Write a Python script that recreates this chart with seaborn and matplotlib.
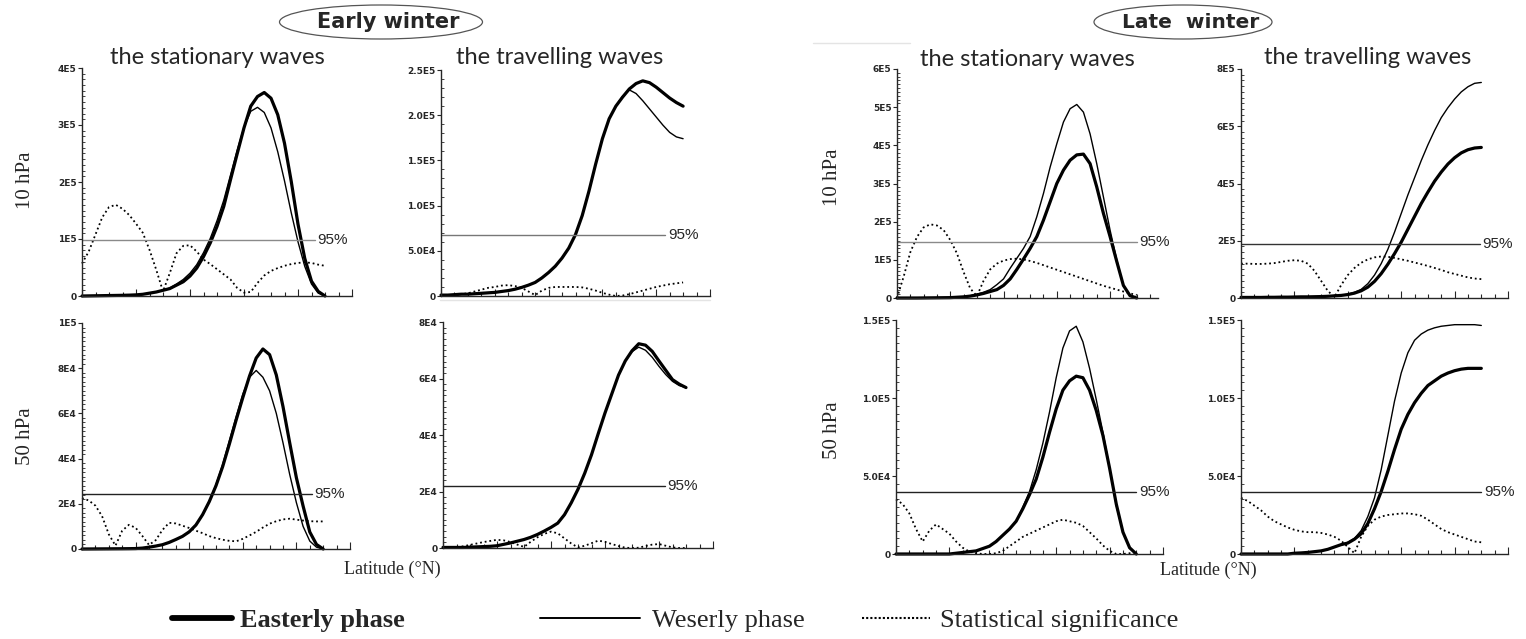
import matplotlib
matplotlib.use("Agg")
import matplotlib.pyplot as plt
import seaborn as sns
from matplotlib.patches import Ellipse
from matplotlib.lines import Line2D
from matplotlib.ticker import MultipleLocator, AutoMinorLocator

# latitude grid (deg N)
lat = [0, 2.5, 5, 7.5, 10, 12.5, 15, 17.5, 20, 22.5, 25, 27.5, 30, 32.5, 35, 37.5,
       40, 42.5, 45, 47.5, 50, 52.5, 55, 57.5, 60, 62.5, 65, 67.5, 70, 72.5, 75,
       77.5, 80, 82.5, 85, 87.5, 90]

# ---- Early winter, stationary waves, 10 hPa (units 1E4)
ew_sta10_east = [0, 0.02, 0.04, 0.06, 0.08, 0.1, 0.12, 0.15, 0.2, 0.3, 0.5, 0.7, 1.0, 1.3, 1.9, 2.5,
                 3.5, 4.9, 6.9, 9.3, 12.2, 15.7, 20.4, 25.0, 29.5, 33.3, 35.0, 35.7, 34.7, 31.8, 26.8,
                 20.1, 12.6, 6.6, 2.6, 0.8, 0]
ew_sta10_west = [0, 0.02, 0.04, 0.06, 0.08, 0.1, 0.12, 0.15, 0.2, 0.3, 0.5, 0.7, 1.0, 1.4, 2.1, 2.9,
                 4.0, 5.5, 7.6, 10.1, 13.2, 16.8, 21.2, 25.6, 29.6, 32.4, 33.1, 32.2, 29.5, 25.3, 20.2,
                 14.6, 9.5, 5.2, 2.1, 0.5, 0]
ew_sta10_sig = [5.7, 7.8, 10.8, 13.8, 15.6, 16.0, 15.3, 14.2, 12.7, 11.1, 8.1, 4.6, 0.8, 4.0, 7.5, 8.8,
                8.9, 7.8, 6.4, 5.6, 4.7, 3.8, 2.9, 1.4, 0.6, 0.7, 2.3, 3.6, 4.4, 4.9, 5.3,
                5.6, 5.8, 5.9, 5.8, 5.5, 5.3]

# ---- Early winter, travelling waves, 10 hPa (units 1E4)
ew_tra10_east = [0.1, 0.1, 0.15, 0.2, 0.2, 0.25, 0.3, 0.35, 0.4, 0.5, 0.6, 0.75, 0.95, 1.2, 1.5, 2.0,
                 2.6, 3.3, 4.2, 5.3, 6.8, 8.9, 11.6, 14.6, 17.4, 19.6, 21.0, 22.0, 22.9, 23.5, 23.8,
                 23.6, 23.1, 22.5, 21.9, 21.4, 21.0]
ew_tra10_west = [0.1, 0.1, 0.15, 0.2, 0.2, 0.25, 0.3, 0.35, 0.4, 0.5, 0.6, 0.75, 0.95, 1.2, 1.5, 2.0,
                 2.6, 3.3, 4.2, 5.3, 6.8, 8.9, 11.6, 14.6, 17.4, 19.6, 21.0, 22.1, 22.8, 22.4, 21.6,
                 20.7, 19.8, 18.9, 18.1, 17.6, 17.4]
ew_tra10_sig = [0.0, 0.05, 0.1, 0.2, 0.3, 0.5, 0.7, 0.9, 1.0, 1.15, 1.2, 1.1, 0.9, 0.5, 0.1, 0.6,
                0.9, 1.0, 1.0, 1.0, 1.0, 0.95, 0.8, 0.6, 0.35, 0.15, 0.0, 0.05, 0.2, 0.4, 0.6,
                0.8, 1.0, 1.15, 1.3, 1.4, 1.5]

# ---- Early winter, stationary waves, 50 hPa (units 1E3)
ew_sta50_east = [0, 0.02, 0.04, 0.06, 0.08, 0.1, 0.12, 0.15, 0.2, 0.4, 0.8, 1.3, 1.9, 2.9, 4.2, 5.6,
                 7.6, 10.6, 15.2, 21.0, 28.0, 36.5, 46.5, 57.0, 67.0, 76.5, 84.5, 88.5, 86.0, 77.0, 63.0,
                 47.0, 31.5, 19.0, 7.5, 2.0, 0]
ew_sta50_west = [0, 0.02, 0.04, 0.06, 0.08, 0.1, 0.12, 0.15, 0.2, 0.4, 0.8, 1.3, 1.9, 2.9, 4.2, 5.6,
                 7.6, 10.6, 15.2, 21.2, 28.5, 37.5, 48.0, 58.5, 68.5, 76.0, 79.0, 76.0, 70.0, 60.0, 47.0,
                 33.0, 20.5, 10.0, 3.5, 0.8, 0]
ew_sta50_sig = [22.5, 21.5, 19.2, 14.5, 6.5, 1.5, 8.1, 10.7, 9.4, 5.8, 1.8, 3.9, 8.4, 11.6, 11.3, 10.3,
                9.3, 8.1, 7.0, 5.7, 4.8, 4.1, 3.6, 3.4, 4.5, 6.0, 7.6, 9.5, 11.2, 12.3, 13.1,
                13.4, 13.0, 12.6, 12.3, 12.2, 12.2]

# ---- Early winter, travelling waves, 50 hPa (units 1E3)
ew_tra50_east = [0.2, 0.2, 0.2, 0.2, 0.3, 0.4, 0.5, 0.6, 0.8, 1.3, 1.8, 2.4, 3.0, 3.8, 4.8, 6.0,
                 7.3, 8.8, 11.8, 16.0, 20.8, 26.5, 33.0, 40.5, 47.8, 54.5, 61.2, 66.2, 69.8, 72.3, 71.8,
                 69.6, 66.2, 62.9, 59.6, 58.0, 56.8]
ew_tra50_west = [0.2, 0.2, 0.2, 0.2, 0.3, 0.4, 0.5, 0.6, 0.8, 1.3, 1.8, 2.4, 3.0, 3.8, 4.8, 6.0,
                 7.3, 8.8, 11.8, 16.0, 20.8, 26.5, 33.0, 40.5, 47.8, 54.5, 61.2, 66.2, 69.5, 71.1, 70.0,
                 67.5, 64.3, 61.4, 59.0, 57.5, 56.8]
ew_tra50_sig = [0.0, 0.1, 0.3, 0.6, 1.1, 1.6, 2.1, 2.5, 2.9, 2.7, 2.1, 1.2, 0.4, 2.2, 3.8, 5.0,
                5.8, 5.2, 3.4, 1.6, 0.2, 0.8, 1.7, 2.6, 2.2, 1.4, 0.7, 0.1, 0.0, 0.1, 0.7,
                1.2, 1.4, 0.8, 0.2, 0.0, 0.0]

# ---- Late winter, stationary waves, 10 hPa (units 1E4)
lw_sta10_east = [0, 0, 0, 0, 0.02, 0.04, 0.06, 0.08, 0.1, 0.2, 0.3, 0.5, 0.8, 1.2, 1.7, 2.2,
                 3.3, 5.0, 7.5, 10.2, 13.0, 16.1, 20.4, 25.2, 30.0, 33.5, 36.1, 37.5, 37.7, 35.2, 29.1,
                 22.2, 16.1, 9.6, 3.3, 0.6, 0]
lw_sta10_west = [0, 0, 0, 0, 0.02, 0.04, 0.06, 0.08, 0.1, 0.2, 0.3, 0.6, 1.0, 1.5, 2.2, 3.5,
                 5.0, 7.8, 10.4, 13.0, 16.1, 21.3, 27.4, 34.3, 40.4, 46.1, 49.6, 50.7, 48.7, 43.0, 35.2,
                 26.5, 17.8, 10.0, 3.3, 0.6, 0]
lw_sta10_sig = [0, 5.6, 12.0, 16.0, 18.5, 19.3, 19.0, 17.8, 15.2, 11.7, 6.8, 2.5, 0.5, 4.5, 7.5, 9.0,
                9.8, 10.2, 10.3, 10.1, 9.7, 9.2, 8.6, 8.0, 7.4, 6.8, 6.2, 5.6, 5.0, 4.4, 3.8,
                3.2, 2.7, 2.2, 1.7, 1.2, 0.8]

# ---- Late winter, travelling waves, 10 hPa (units 1E4)
lw_tra10_east = [0.2, 0.2, 0.2, 0.2, 0.25, 0.25, 0.3, 0.3, 0.35, 0.4, 0.4, 0.45, 0.5, 0.6, 0.75, 0.9,
                 1.2, 1.7, 2.5, 3.8, 5.8, 8.5, 11.8, 15.5, 19.5, 24.0, 28.5, 33.0, 37.0, 40.8, 44.0,
                 46.8, 49.0, 50.7, 51.8, 52.4, 52.6]
lw_tra10_west = [0.2, 0.2, 0.2, 0.2, 0.25, 0.25, 0.3, 0.3, 0.35, 0.4, 0.4, 0.45, 0.5, 0.6, 0.8, 1.0,
                 1.3, 2.0, 3.0, 5.0, 8.0, 12.0, 17.0, 23.0, 29.5, 36.0, 42.0, 48.0, 53.5, 58.5, 63.0,
                 66.5, 69.5, 72.0, 73.8, 75.0, 75.3]
lw_tra10_sig = [12.0, 12.0, 11.9, 11.9, 12.0, 12.2, 12.6, 13.0, 13.2, 13.0, 12.0, 9.5, 6.0, 2.5, 0.3, 4.5,
                8.0, 10.5, 12.3, 13.5, 14.2, 14.5, 14.4, 14.0, 13.5, 13.0, 12.4, 11.8, 11.2, 10.5, 9.8,
                9.0, 8.4, 7.8, 7.2, 6.8, 6.6]

# ---- Late winter, stationary waves, 50 hPa (units 1E4)
lw_sta50_east = [0, 0, 0, 0, 0, 0, 0, 0, 0, 0.05, 0.1, 0.15, 0.2, 0.35, 0.5, 0.8,
                 1.2, 1.6, 2.1, 2.9, 3.8, 4.8, 6.2, 7.8, 9.3, 10.5, 11.1, 11.4, 11.3, 10.5, 9.2,
                 7.6, 5.5, 3.2, 1.4, 0.4, 0]
lw_sta50_west = [0, 0, 0, 0, 0, 0, 0, 0, 0, 0.05, 0.1, 0.15, 0.2, 0.35, 0.5, 0.8,
                 1.2, 1.6, 2.1, 3.0, 4.0, 5.4, 7.1, 9.1, 11.3, 13.2, 14.3, 14.6, 13.6, 11.9, 9.9,
                 7.8, 5.5, 3.1, 1.4, 0.4, 0]
lw_sta50_sig = [3.5, 3.2, 2.6, 1.6, 0.8, 1.5, 1.9, 1.6, 1.3, 0.8, 0.4, 0.15, 0.05, 0.0, 0.0, 0.05,
                0.2, 0.5, 0.8, 1.1, 1.3, 1.5, 1.7, 1.9, 2.1, 2.2, 2.1, 2.0, 1.8, 1.4, 1.0,
                0.55, 0.2, 0.0, 0.0, 0.05, 0.1]

# ---- Late winter, travelling waves, 50 hPa (units 1E4)
lw_tra50_east = [0, 0, 0, 0, 0, 0, 0, 0, 0.05, 0.07, 0.1, 0.15, 0.2, 0.3, 0.45, 0.6,
                 0.7, 0.95, 1.3, 1.95, 2.9, 4.0, 5.3, 6.7, 8.0, 8.95, 9.7, 10.3, 10.8, 11.1, 11.4,
                 11.6, 11.75, 11.85, 11.9, 11.9, 11.9]
lw_tra50_west = [0, 0, 0, 0, 0, 0, 0, 0, 0.05, 0.07, 0.1, 0.15, 0.2, 0.3, 0.45, 0.6,
                 0.75, 1.0, 1.5, 2.4, 3.6, 5.4, 7.6, 9.8, 11.6, 12.9, 13.7, 14.1, 14.35, 14.5, 14.6,
                 14.65, 14.7, 14.7, 14.7, 14.7, 14.65]
lw_tra50_sig = [3.6, 3.4, 3.1, 2.8, 2.4, 2.1, 1.9, 1.7, 1.55, 1.45, 1.4, 1.4, 1.35, 1.25, 1.1, 0.85,
                0.45, 0.05, 1.1, 1.8, 2.2, 2.4, 2.5, 2.55, 2.6, 2.6, 2.55, 2.45, 2.2, 1.9, 1.6,
                1.4, 1.25, 1.1, 0.95, 0.8, 0.75]

# 95% significance levels
sig95 = [0.99e5, 0.672e5, 2.43e4, 2.18e4, 1.47e5, 1.9e5, 4.0e4, 4.0e4]

# y tick values / labels
yticks = [[0, 1e5, 2e5, 3e5, 4e5],
          [0, 5e4, 1e5, 1.5e5, 2e5, 2.5e5],
          [0, 2e4, 4e4, 6e4, 8e4, 1e5],
          [0, 2e4, 4e4, 6e4, 8e4],
          [0, 1e5, 2e5, 3e5, 4e5, 5e5, 6e5],
          [0, 2e5, 4e5, 6e5, 8e5],
          [0, 5e4, 1e5, 1.5e5],
          [0, 5e4, 1e5, 1.5e5]]
ylabels = [["0", "1E5", "2E5", "3E5", "4E5"],
           ["0", "5.0E4", "1.0E5", "1.5E5", "2.0E5", "2.5E5"],
           ["0", "2E4", "4E4", "6E4", "8E4", "1E5"],
           ["0", "2E4", "4E4", "6E4", "8E4"],
           ["0", "1E5", "2E5", "3E5", "4E5", "5E5", "6E5"],
           ["0", "2E5", "4E5", "6E5", "8E5"],
           ["0", "5.0E4", "1.0E5", "1.5E5"],
           ["0", "5.0E4", "1.0E5", "1.5E5"]]

series = [(ew_sta10_east, ew_sta10_west, ew_sta10_sig, 1e4),
          (ew_tra10_east, ew_tra10_west, ew_tra10_sig, 1e4),
          (ew_sta50_east, ew_sta50_west, ew_sta50_sig, 1e3),
          (ew_tra50_east, ew_tra50_west, ew_tra50_sig, 1e3),
          (lw_sta10_east, lw_sta10_west, lw_sta10_sig, 1e4),
          (lw_tra10_east, lw_tra10_west, lw_tra10_sig, 1e4),
          (lw_sta50_east, lw_sta50_west, lw_sta50_sig, 1e4),
          (lw_tra50_east, lw_tra50_west, lw_tra50_sig, 1e4)]

# layout (pixel frames: left, top, right, bottom) and styling
W, H = 1526, 639
frames = [(82, 68, 352, 296), (441, 70, 710, 296), (82, 323, 350, 549), (443, 322, 713, 548),
          (897, 69, 1158, 298), (1241, 69, 1508, 298), (896, 320, 1163, 554), (1241, 320, 1508, 554)]
xmax = [100, 100, 100, 100, 98, 100, 100, 100]
minor_div = [10, 5, 10, 10, 10, 10, 10, 10]
line_end = [0.863, 0.833, 0.858, 0.822, 0.92, 0.895, 0.90, 0.90]
line_col = ["#8a8a8a", "#777777", "#222222", "#222222", "#8a8a8a", "#333333", "#222222", "#222222"]


def fx(px):
    return px / W


def fy(py):
    return 1 - py / H


sns.set_style("ticks")
plt.rcParams["font.family"] = ["Liberation Sans", "DejaVu Sans"]

fig = plt.figure(figsize=(W / 100, H / 100), dpi=100)

for i, (east, west, sig, unit) in enumerate(series):
    l, t, r, b = frames[i]
    ax = fig.add_axes([fx(l), fy(b), (r - l) / W, (b - t) / H])
    sns.lineplot(x=lat, y=[v * unit for v in sig], ax=ax, color="black", lw=1.3,
                 linestyle=(0, (1, 1.6)), clip_on=False)
    sns.lineplot(x=lat, y=[v * unit for v in west], ax=ax, color="black", lw=1.0, clip_on=False)
    sns.lineplot(x=lat, y=[v * unit for v in east], ax=ax, color="black", lw=2.3, clip_on=False)

    ax.axhline(sig95[i], xmin=0, xmax=line_end[i], color=line_col[i], lw=1.0)
    ax.text(line_end[i] + 0.01, sig95[i], "95%", transform=ax.get_yaxis_transform(),
            ha="left", va="center", fontsize=11, clip_on=False)

    ax.set_xlim(0, xmax[i])
    ax.set_ylim(0, yticks[i][-1])
    ax.set_yticks(yticks[i])
    ax.set_yticklabels(ylabels[i], fontsize=6.5, fontweight="bold", family="DejaVu Sans")
    ax.yaxis.set_minor_locator(AutoMinorLocator(minor_div[i]))
    ax.xaxis.set_major_locator(MultipleLocator(20))
    ax.xaxis.set_minor_locator(MultipleLocator(5))
    ax.tick_params(axis="x", which="major", direction="in", length=5, width=0.8, labelbottom=False)
    ax.tick_params(axis="x", which="minor", direction="in", length=3, width=0.8)
    ax.tick_params(axis="y", which="major", direction="out", length=3, width=0.8, pad=1)
    ax.tick_params(axis="y", which="minor", direction="in", length=2, width=0.6)
    ax.set_xlabel("")
    ax.set_ylabel("")
    sns.despine(ax=ax)
    for s in ("left", "bottom"):
        ax.spines[s].set_linewidth(1.0)

# season labels in ellipses
fig.add_artist(Ellipse((fx(381), fy(22)), 203 / W, 34 / H, transform=fig.transFigure,
                       fill=False, ec="#555555", lw=0.9))
fig.text(fx(388), fy(22), "Early winter", ha="center", va="center", fontsize=15,
         fontweight="bold", family="DejaVu Sans")
fig.add_artist(Ellipse((fx(1183), fy(22)), 178 / W, 34 / H, transform=fig.transFigure,
                       fill=False, ec="#555555", lw=0.9))
fig.text(fx(1191), fy(22), "Late  winter", ha="center", va="center", fontsize=14.5,
         fontweight="bold", family="DejaVu Sans")

# column titles
for xc, yc, txt in [(217, 57, "the stationary waves"), (560, 57, "the travelling waves"),
                    (1027, 59, "the stationary waves"), (1368, 58, "the travelling waves")]:
    fig.text(fx(xc), fy(yc), txt, ha="center", va="center", fontsize=17, family="Lato")

# pressure level labels
for xc, yc, txt in [(25, 180, "10 hPa"), (25, 436, "50 hPa"), (832, 177, "10 hPa"), (832, 430, "50 hPa")]:
    fig.text(fx(xc), fy(yc), txt, rotation=90, ha="center", va="center", fontsize=15,
             family="Liberation Serif")

for xc, yc in [(392, 569), (1208, 570)]:
    fig.text(fx(xc), fy(yc), "Latitude (°N)", ha="center", va="center", fontsize=13,
             family="Liberation Serif")

# faint scan lines from the original
fig.add_artist(Line2D([fx(813), fx(910)], [fy(43), fy(43)], color="#e4e4e4", lw=1,
                      transform=fig.transFigure))
fig.add_artist(Line2D([fx(440), fx(710)], [fy(300), fy(300)], color="#e4e4e4", lw=1,
                      transform=fig.transFigure))

# legend
leg_items = [(Line2D([], [], color="black", lw=4.2), "Easterly phase", 172, 2.27, 0.3, "bold"),
             (Line2D([], [], color="black", lw=1.4), "Weserly phase", 540, 3.79, 0.45, "normal"),
             (Line2D([], [], color="black", lw=1.5, linestyle=(0, (1, 1))), "Statistical significance",
              862, 2.58, 0.38, "normal")]
for handle, text, x0, hl, pad, wt in leg_items:
    fig.legend(handles=[handle], labels=[text], loc="center left", bbox_to_anchor=(fx(x0), fy(620)),
               frameon=False, handlelength=hl, handletextpad=pad, borderpad=0, borderaxespad=0,
               prop={"family": "Liberation Serif", "size": 19, "weight": wt})

fig.savefig("out.png", dpi=100)
